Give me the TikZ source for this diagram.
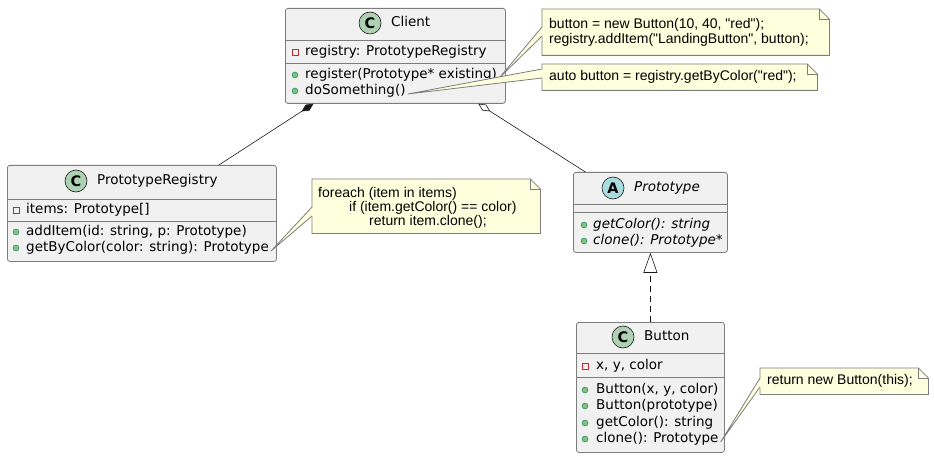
\documentclass[tikz,border=0pt]{standalone}
\usepackage{fontspec}
\setmainfont{DejaVu Sans}
\newfontfamily\notefont{Liberation Sans}
\usetikzlibrary{arrows.meta}
\definecolor{boxfill}{HTML}{F1F1F1}
\definecolor{boxline}{HTML}{181818}
\definecolor{frameline}{HTML}{7D7D7D}
\definecolor{notefill}{HTML}{FEFFDD}
\definecolor{cfill}{HTML}{ADD1B2}
\definecolor{afill}{HTML}{A9DCDF}
\definecolor{privred}{HTML}{C82930}
\definecolor{pubfill}{HTML}{84BE84}
\definecolor{publine}{HTML}{038048}
\begin{document}
\begin{tikzpicture}[x=1pt,y=-1pt,
  classbox/.style={draw=frameline, fill=boxfill, line width=0.8pt, rounded corners=2.5pt, anchor=north west, inner sep=0pt, rectangle},
  sepline/.style={draw=frameline, line width=0.8pt},
  member/.style={anchor=west, inner sep=0pt, text height=10pt, text depth=3pt, font=\fontsize{13.5}{16}\selectfont},
  badge/.style={circle, draw=boxline, line width=0.6pt, minimum size=22pt, inner sep=0pt, font=\fontsize{14.5}{16}\selectfont\bfseries},
  priv/.style={rectangle, draw=privred, line width=0.7pt, minimum size=6pt, inner sep=0pt},
  pub/.style={circle, fill=pubfill, draw=publine, line width=0.4pt, minimum size=6pt, inner sep=0pt},
  notebox/.style={anchor=north west, inner sep=0pt, rectangle},
  notestyle/.style={draw=frameline, fill=notefill, line width=0.8pt},
  notetext/.style={anchor=west, inner sep=0pt, text height=10pt, text depth=3pt, font=\notefont\fontsize{14}{16}\selectfont},
  rel/.style={draw=boxline, line width=0.6pt}
]
\useasboundingbox (0,0) rectangle (934,457);

% ---------------- Client
\node[classbox, minimum width=220pt, minimum height=95pt] (client) at (285,8) {};
\node[badge, fill=cfill] (cbadge) at (370,23) {C};
\node[member] (ctitle) at (391,23) {Client};
\draw[sepline] (285,40) -- (505,40);
\node[priv] (cpv1) at (295,52) {};
\node[member] (cattr) at (305,52) {registry: PrototypeRegistry};
\draw[sepline] (285,63) -- (505,63);
\node[pub] (cpb1) at (295,75) {};
\node[member] (creg) at (305,75) {register(Prototype* existing)};
\node[pub] (cpb2) at (295,91) {};
\node[member] (cdo) at (305,91) {doSomething()};

% ---------------- PrototypeRegistry
\node[classbox, minimum width=269pt, minimum height=96pt] (registry) at (7,165) {};
\node[badge, fill=cfill] (rbadge) at (76,181) {C};
\node[member] (rtitle) at (97,181) {PrototypeRegistry};
\draw[sepline] (7,199) -- (276,199);
\node[priv] (rpv1) at (16,210) {};
\node[member] (rattr) at (26,210) {items: Prototype[]};
\draw[sepline] (7,221) -- (276,221);
\node[pub] (rpb1) at (16,232) {};
\node[member] (radd) at (26,232) {addItem(id: string, p: Prototype)};
\node[pub] (rpb2) at (16,248) {};
\node[member] (rget) at (26,248) {getByColor(color: string): Prototype};

% ---------------- Prototype
\node[classbox, minimum width=154pt, minimum height=80pt] (proto) at (573,172) {};
\node[badge, fill=afill] (pbadge) at (613,188) {A};
\node[member, font=\fontsize{13.5}{16}\selectfont\itshape] (ptitle) at (634,188) {Prototype};
\draw[sepline] (573,204) -- (727,204);
\draw[sepline] (573,212) -- (727,212);
\node[pub] (ppb1) at (584,225) {};
\node[member, font=\fontsize{13.5}{16}\selectfont\itshape] (pget) at (593,225) {getColor(): string};
\node[pub] (ppb2) at (584,241) {};
\node[member, font=\fontsize{13.5}{16}\selectfont\itshape] (pclone) at (593,241) {clone(): Prototype*};

% ---------------- Button
\node[classbox, minimum width=148pt, minimum height=130pt] (button) at (576,322) {};
\node[badge, fill=cfill] (bbadge) at (623,337) {C};
\node[member] (btitle) at (644,337) {Button};
\draw[sepline] (576,353) -- (724,353);
\node[priv] (bpv1) at (585,366) {};
\node[member] (battr) at (596,366) {x, y, color};
\draw[sepline] (576,377) -- (724,377);
\node[pub] (bpb1) at (585,390) {};
\node[member] (bm1) at (596,390) {Button(x, y, color)};
\node[pub] (bpb2) at (585,406) {};
\node[member] (bm2) at (596,406) {Button(prototype)};
\node[pub] (bpb3) at (585,423) {};
\node[member] (bm3) at (596,423) {getColor(): string};
\node[pub] (bpb4) at (585,439) {};
\node[member] (bm4) at (596,439) {clone(): Prototype};

% ---------------- Relations
\draw[rel, -{Diamond[length=14pt,width=7pt]}] ([xshift=77pt]registry.north) -- ([xshift=-82pt]client.south);
\draw[rel, -{Diamond[open,length=14pt,width=7pt]}] ([xshift=-65pt]proto.north) -- ([xshift=83pt]client.south);
\draw[rel, dash pattern=on 6pt off 4pt, -{Triangle[open,length=20pt,width=14pt]}] (button.north) -- (proto.south);

% ---------------- Notes
\newcommand{\drawnote}[1]{%
  \draw[notestyle] (#1.north west) -- ([xshift=-10pt]#1.north east) -- ([yshift=-10pt]#1.north east) -- (#1.south east) -- (#1.south west) -- cycle;
  \draw[notestyle, fill=none] ([xshift=-10pt]#1.north east) -- ([xshift=-10pt,yshift=-10pt]#1.north east) -- ([yshift=-10pt]#1.north east);}
% wedge: #1 member node, #2 note node, #3 upper offset, #4 lower offset
\newcommand{\drawwedge}[4]{%
  \fill[notefill] ([xshift=2pt,yshift=-3pt]#1.east) -- ([xshift=1pt,yshift=-#3]#2.north west) -- ([xshift=1pt,yshift=-#4]#2.north west) -- cycle;
  \draw[frameline, line width=0.8pt] ([yshift=-#3]#2.north west) -- ([xshift=2pt,yshift=-3pt]#1.east) -- ([yshift=-#4]#2.north west);}

\node[notebox, minimum width=287pt, minimum height=46pt] (n1) at (542,9) {};
\drawnote{n1}
\node[notetext] (n1a) at (549,25) {button = new Button(10, 40, "red");};
\node[notetext] (n1b) at (549,40) {registry.addItem("LandingButton", button);};
\drawwedge{creg}{n1}{18pt}{27pt}

\node[notebox, minimum width=275pt, minimum height=26pt] (n2) at (542,64) {};
\drawnote{n2}
\node[notetext] (n2a) at (549,77) {auto button = registry.getByColor("red");};
\drawwedge{cdo}{n2}{5pt}{14pt}

\node[notebox, minimum width=228pt, minimum height=54pt] (n3) at (312,179) {};
\drawnote{n3}
\node[notetext] (n3a) at (318,194) {foreach (item in items)};
\node[notetext] (n3b) at (349,208) {if (item.getColor() == color)};
\node[notetext] (n3c) at (369,222) {return item.clone();};
\drawwedge{rget}{n3}{28pt}{37pt}

\node[notebox, minimum width=168pt, minimum height=26pt] (n4) at (760,368) {};
\drawnote{n4}
\node[notetext] (n4a) at (767,381) {return new Button(this);};
\drawwedge{bm4}{n4}{10pt}{19pt}
\end{tikzpicture}
\end{document}
